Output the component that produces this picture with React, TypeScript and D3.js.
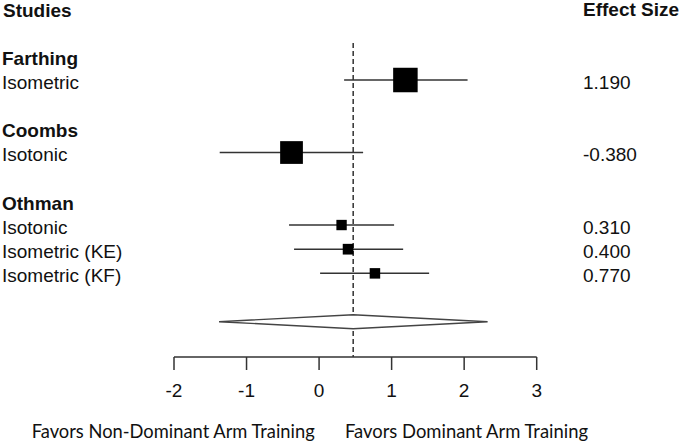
import React from "react";
import * as d3 from "d3";

// ---- data ----
const studyNames = ["Farthing", "Coombs", "Othman"];
const outcomeLabels = ["Isometric", "Isotonic", "Isotonic", "Isometric (KE)", "Isometric (KF)"];
const outcomeStudy = [0, 1, 2, 2, 2];
const estimates = [1.19, -0.38, 0.31, 0.4, 0.77];
const ciLower = [0.345, -1.37, -0.414, -0.345, 0.014];
const ciUpper = [2.047, 0.607, 1.034, 1.159, 1.517];
const weights = [41.4, 35.7, 7.4, 7.9, 7.6];
const effectLabels = ["1.190", "-0.380", "0.310", "0.400", "0.770"];
const summaryEstimate = 0.47;
const summaryLower = -1.379;
const summaryUpper = 2.323;
const xTicks = [-2, -1, 0, 1, 2, 3];
const headerLeft = "Studies";
const headerRight = "Effect Size";
const favorsLeft = "Favors Non-Dominant Arm Training";
const favorsRight = "Favors Dominant Arm Training";

// row indices (from top)
const studyRows = [2, 5, 8];
const outcomeRows = [3, 6, 9, 10, 11];
const summaryRow = 13;

const W = 685;
const H = 442;

export default function App() {
  const x = d3.scaleLinear().domain([-2, 3]).range([174, 536.7]);
  const y = d3.scaleLinear().domain([0, 1]).range([7.5, 31.67]);
  const size = d3.scaleSqrt().domain([0, d3.max(weights) as number]).range([0, 24.5]);
  const axisY = 357;
  const font = "'Liberation Sans', Arial, sans-serif";
  const fs = 19;
  const textColor = "#111";
  const lineColor = "#333";
  const sy = y(summaryRow);
  const diamond = [
    [x(summaryLower), sy],
    [x(summaryEstimate), sy - 7],
    [x(summaryUpper), sy],
    [x(summaryEstimate), sy + 7],
  ];

  return (
    <svg
      width={W}
      height={H}
      viewBox={`0 0 ${W} ${H}`}
      style={{ position: "absolute", left: 0, top: 0, background: "#fff" }}
    >
      <rect width={W} height={H} fill="#fff" />
      {/* headers */}
      <text x={3} y={y(0) + 9} fontFamily={font} fontSize={fs} fontWeight="bold" fill={textColor}>
        {headerLeft}
      </text>
      <text x={583} y={y(0) + 8} fontFamily={font} fontSize={fs} fontWeight="bold" fill={textColor}>
        {headerRight}
      </text>
      {studyNames.map((s, i) => (
        <text key={s} x={2} y={y(studyRows[i]) + 9} fontFamily={font} fontSize={fs} fontWeight="bold" fill={textColor}>
          {s}
        </text>
      ))}
      {outcomeLabels.map((lab, i) => (
        <g key={i}>
          <text x={2} y={y(outcomeRows[i]) + 8.5} fontFamily={font} fontSize={fs} fill={textColor}>
            {lab}
          </text>
          <text x={583} y={y(outcomeRows[i]) + 8.5} fontFamily={font} fontSize={fs} fill={textColor}>
            {effectLabels[i]}
          </text>
        </g>
      ))}
      {/* reference dashed line */}
      <line
        x1={x(summaryEstimate)}
        x2={x(summaryEstimate)}
        y1={43}
        y2={axisY}
        stroke="#222"
        strokeWidth={1.4}
        strokeDasharray="5,3"
      />
      {/* CIs and squares */}
      {estimates.map((e, i) => {
        const cy = y(outcomeRows[i]);
        const s = size(weights[i]);
        return (
          <g key={i}>
            <line x1={x(ciLower[i])} x2={x(ciUpper[i])} y1={cy} y2={cy} stroke={lineColor} strokeWidth={1.5} />
            <rect x={x(e) - s / 2} y={cy - s / 2} width={s} height={s} fill="#000" />
          </g>
        );
      })}
      {/* summary diamond */}
      <polygon
        points={diamond.map((p) => p.join(",")).join(" ")}
        fill="#fff"
        stroke="#444"
        strokeWidth={1.4}
      />
      {/* axis */}
      <line x1={x(-2)} x2={x(3)} y1={axisY} y2={axisY} stroke={lineColor} strokeWidth={1.5} />
      {xTicks.map((t) => (
        <g key={t}>
          <line x1={x(t)} x2={x(t)} y1={axisY} y2={axisY + 13} stroke={lineColor} strokeWidth={1.5} />
          <text x={x(t)} y={397} textAnchor="middle" fontFamily={font} fontSize={fs} fill={textColor}>
            {t}
          </text>
        </g>
      ))}
      <text x={31.7} y={437.5} fontFamily="Lato, 'Open Sans', sans-serif" fontSize={19} fill={textColor} textLength={283} lengthAdjust="spacingAndGlyphs">
        {favorsLeft}
      </text>
      <text x={345} y={437.5} fontFamily="Lato, 'Open Sans', sans-serif" fontSize={19} fill={textColor} textLength={243} lengthAdjust="spacingAndGlyphs">
        {favorsRight}
      </text>
    </svg>
  );
}
